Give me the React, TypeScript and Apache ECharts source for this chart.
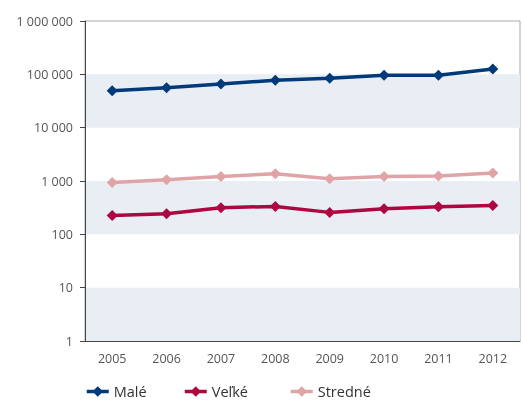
import React, { useEffect, useRef } from "react";
import * as echarts from "echarts";

const years = ["2005", "2006", "2007", "2008", "2009", "2010", "2011", "2012"];
const male = [49300, 56200, 65900, 77300, 84300, 96000, 96500, 126000];
const velke = [226, 244, 316, 334, 258, 303, 330, 349];
const stredne = [942, 1058, 1220, 1371, 1105, 1220, 1241, 1413];
const seriesNames = ["Malé", "Veľké", "Stredné"];

const fmt = (v: number) => String(Math.round(v)).replace(/\B(?=(\d{3})+(?!\d))/g, " ");

export default function App() {
  const ref = useRef<HTMLDivElement>(null);
  useEffect(() => {
    if (!ref.current) return;
    const chart = echarts.init(ref.current, undefined, { renderer: "svg" });
    const font = "'Open Sans', 'Noto Sans', sans-serif";
    const mk = (name: string, data: number[], color: string) => ({
      name,
      type: "line",
      data,
      symbol: "diamond",
      symbolSize: 11,
      lineStyle: { width: 3.5, color },
      itemStyle: { color },
      z: 3,
    });
    const legendLeft = [85, 183, 289];
    chart.setOption({
      animation: false,
      textStyle: { fontFamily: font },
      grid: {
        left: 85,
        right: 3,
        top: 21,
        bottom: 60,
        show: true,
        borderColor: "#aaa",
        borderWidth: 1,
      },
      legend: seriesNames.map((n, i) => ({
        left: legendLeft[i],
        top: 384,
        padding: 0,
        itemWidth: 22,
        itemHeight: 13,
        itemGap: 0,
        lineStyle: { width: 3.5 },
        textStyle: { fontSize: 14.5, color: "#333", fontFamily: font },
        data: [n],
      })),
      xAxis: {
        type: "category",
        data: years,
        boundaryGap: true,
        axisLine: { lineStyle: { color: "#444", width: 1 } },
        axisTick: { length: 4, lineStyle: { color: "#444" } },
        axisLabel: { color: "#555", fontSize: 12.5, margin: 11 },
      },
      yAxis: {
        type: "log",
        logBase: 10,
        min: 1,
        max: 1000000,
        axisLine: { show: true, lineStyle: { color: "#444", width: 1 } },
        axisTick: { show: true, length: 5, lineStyle: { color: "#444" } },
        axisLabel: { color: "#555", fontSize: 12.5, margin: 12, formatter: fmt },
        splitLine: { show: false },
        splitArea: { show: true, areaStyle: { color: ["#e9edf4", "rgba(255,255,255,0)"] } },
      },
      series: [
        mk(seriesNames[0], male, "#003a7a"),
        mk(seriesNames[1], velke, "#ad0640"),
        mk(seriesNames[2], stredne, "#e0a4a7"),
      ],
    });
    return () => chart.dispose();
  }, []);
  return (
    <div
      ref={ref}
      style={{ position: "fixed", left: 0, top: 0, width: 523, height: 401 }}
    />
  );
}
